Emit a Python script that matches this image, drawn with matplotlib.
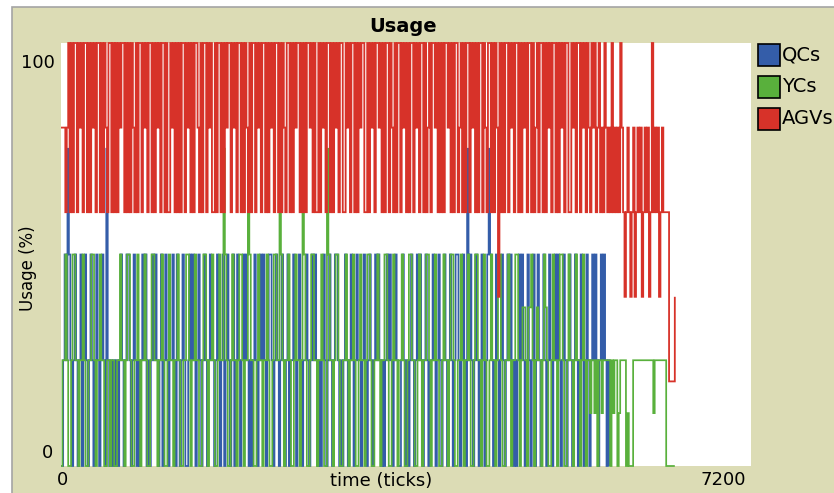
import numpy as np
import matplotlib
matplotlib.use("Agg")
import matplotlib.pyplot as plt
from matplotlib.patches import Rectangle

# Ticks between two recorded samples
TICK_STEP = 15
X_MAX = 7200

# Busy AGVs (out of 5) per sample
agvs_busy = [
    4, 4, 4, 3, 4, 5, 3, 5, 3, 5, 5, 3, 5, 4, 5, 3, 5, 5, 3, 5,
    3, 5, 4, 5, 3, 5, 5, 3, 5, 3, 5, 4, 3, 5, 5, 3, 5, 3, 5, 3,
    5, 4, 5, 5, 3, 5, 3, 5, 3, 5, 4, 3, 5, 3, 5, 5, 3, 5, 4, 5,
    3, 5, 5, 3, 5, 3, 5, 4, 5, 3, 5, 5, 3, 5, 3, 3, 5, 4, 5, 3,
    5, 3, 5, 3, 5, 5, 3, 5, 4, 5, 3, 5, 3, 5, 5, 4, 3, 5, 3, 5,
    5, 3, 5, 4, 5, 3, 3, 5, 3, 5, 5, 3, 5, 3, 5, 4, 5, 5, 3, 5,
    4, 5, 3, 5, 5, 3, 5, 3, 5, 4, 3, 5, 3, 5, 5, 3, 5, 4, 5, 3,
    5, 5, 3, 5, 3, 5, 4, 5, 3, 5, 5, 3, 5, 3, 5, 4, 3, 5, 5, 3,
    5, 3, 5, 4, 5, 5, 3, 5, 3, 5, 3, 5, 5, 4, 5, 3, 5, 3, 3, 5,
    3, 5, 4, 5, 3, 5, 5, 3, 5, 3, 5, 4, 5, 3, 5, 5, 3, 3, 5, 4,
    5, 3, 5, 5, 3, 5, 3, 5, 4, 5, 5, 3, 3, 5, 3, 5, 4, 5, 3, 5,
    5, 4, 5, 3, 5, 3, 5, 5, 3, 5, 4, 3, 5, 3, 5, 5, 3, 5, 4, 5,
    3, 5, 3, 5, 5, 3, 5, 4, 5, 3, 5, 5, 3, 5, 3, 4, 5, 3, 5, 5,
    4, 5, 3, 5, 3, 5, 3, 5, 5, 4, 5, 3, 5, 3, 5, 5, 3, 4, 5, 3,
    5, 3, 5, 5, 3, 5, 4, 5, 3, 5, 3, 5, 5, 3, 5, 4, 3, 5, 5, 3,
    5, 3, 5, 4, 2, 5, 3, 5, 3, 5, 5, 3, 5, 4, 5, 3, 5, 5, 3, 5,
    3, 5, 4, 5, 3, 5, 5, 3, 5, 3, 4, 5, 3, 5, 5, 3, 5, 3, 5, 4,
    5, 3, 5, 5, 3, 5, 3, 5, 4, 5, 3, 5, 5, 3, 3, 5, 4, 5, 3, 5,
    5, 3, 5, 4, 5, 3, 5, 4, 3, 5, 4, 5, 3, 4, 5, 3, 4, 3, 5, 4,
    3, 4, 3, 5, 3, 4, 3, 4, 3, 5, 4, 3, 2, 3, 4, 3, 2, 3, 4, 2,
    3, 4, 3, 4, 2, 3, 4, 3, 4, 2, 3, 5, 3, 4, 3, 4, 2, 3, 4, 3,
    3, 3, 3, 1, 1, 1, 1, 2,
]

# Busy quay cranes (out of 4) per sample
qcs_busy = [
    0, 1, 2, 1, 3, 2, 1, 0, 1, 2, 1, 0, 1, 2, 0, 1, 2, 1, 0, 1,
    2, 1, 0, 1, 2, 1, 0, 1, 2, 1, 0, 3, 1, 0, 1, 0, 1, 0, 1, 0,
    1, 2, 1, 0, 1, 2, 2, 1, 0, 1, 2, 1, 0, 1, 0, 1, 2, 1, 2, 0,
    1, 0, 1, 2, 1, 2, 1, 0, 1, 2, 0, 1, 2, 1, 0, 1, 1, 2, 1, 0,
    2, 1, 0, 1, 2, 1, 0, 0, 1, 2, 1, 2, 1, 0, 1, 2, 1, 0, 1, 2,
    1, 0, 1, 2, 1, 1, 0, 1, 2, 1, 0, 1, 2, 0, 1, 2, 1, 0, 1, 2,
    0, 1, 2, 1, 0, 1, 2, 1, 2, 1, 0, 1, 0, 1, 2, 1, 0, 1, 2, 1,
    2, 1, 0, 1, 2, 2, 1, 0, 1, 2, 1, 0, 1, 2, 1, 0, 1, 2, 0, 1,
    1, 2, 1, 0, 1, 2, 1, 0, 1, 1, 2, 1, 0, 1, 2, 1, 2, 1, 0, 1,
    0, 1, 2, 1, 0, 1, 2, 1, 0, 1, 2, 2, 1, 0, 1, 0, 1, 2, 1, 0,
    1, 2, 1, 0, 1, 2, 1, 1, 0, 1, 2, 1, 0, 1, 2, 1, 0, 1, 2, 1,
    2, 1, 0, 1, 0, 1, 2, 1, 2, 1, 0, 1, 2, 1, 0, 0, 1, 2, 1, 0,
    1, 0, 1, 2, 1, 0, 1, 2, 1, 2, 1, 0, 1, 2, 1, 0, 1, 1, 2, 1,
    0, 1, 2, 1, 0, 1, 2, 1, 0, 1, 2, 1, 0, 1, 2, 2, 1, 0, 1, 2,
    1, 0, 3, 1, 2, 1, 0, 1, 2, 1, 0, 1, 2, 1, 0, 1, 2, 3, 2, 1,
    0, 1, 2, 1, 0, 1, 2, 1, 0, 1, 2, 1, 2, 1, 0, 1, 0, 1, 2, 1,
    2, 1, 0, 1, 2, 1, 0, 1, 2, 0, 1, 2, 1, 0, 1, 2, 1, 0, 1, 2,
    1, 0, 1, 2, 1, 2, 1, 0, 1, 2, 1, 0, 1, 2, 1, 0, 1, 2, 1, 0,
    1, 2, 1, 0, 1, 2, 1, 0, 1, 2, 1, 2, 1, 0, 1, 2, 1, 2, 1, 0,
    1, 0,
]

# Busy yard cranes (out of 8) per sample
ycs_busy = [
    0, 2, 2, 4, 2, 0, 0, 2, 4, 4, 2, 2, 0, 2, 2, 4, 2, 0, 0, 2,
    2, 4, 4, 2, 0, 2, 2, 4, 2, 2, 0, 0, 2, 2, 0, 2, 2, 0, 0, 2,
    2, 4, 2, 2, 0, 2, 4, 4, 2, 0, 0, 2, 2, 4, 2, 0, 2, 2, 4, 2,
    0, 0, 2, 4, 4, 2, 2, 0, 2, 2, 4, 2, 0, 0, 2, 4, 2, 2, 0, 2,
    2, 4, 2, 0, 0, 2, 2, 4, 4, 2, 0, 2, 2, 4, 2, 2, 0, 0, 2, 4,
    4, 2, 0, 2, 2, 4, 2, 0, 0, 2, 4, 2, 2, 6, 4, 2, 0, 0, 2, 4,
    2, 2, 0, 2, 4, 4, 2, 0, 2, 2, 6, 4, 2, 2, 0, 0, 2, 4, 2, 2,
    0, 2, 2, 4, 2, 0, 0, 2, 4, 4, 2, 2, 6, 4, 2, 0, 2, 2, 4, 2,
    0, 0, 2, 4, 2, 2, 0, 2, 6, 4, 2, 0, 0, 2, 4, 4, 2, 2, 0, 2,
    2, 4, 2, 0, 0, 6, 4, 2, 2, 0, 2, 4, 4, 2, 0, 0, 2, 2, 4, 2,
    0, 2, 2, 4, 2, 0, 0, 2, 4, 2, 2, 0, 2, 4, 4, 2, 0, 0, 2, 2,
    4, 2, 0, 2, 2, 4, 4, 2, 0, 0, 2, 4, 2, 2, 0, 2, 2, 4, 2, 0,
    0, 2, 4, 4, 2, 2, 0, 0, 2, 4, 2, 0, 2, 2, 4, 4, 2, 0, 2, 2,
    4, 2, 2, 0, 0, 2, 4, 2, 2, 0, 2, 4, 4, 2, 0, 0, 2, 2, 4, 2,
    0, 2, 2, 4, 2, 0, 0, 2, 4, 4, 2, 2, 0, 2, 4, 2, 0, 0, 2, 4,
    2, 2, 0, 2, 4, 4, 2, 0, 0, 2, 2, 4, 2, 0, 2, 2, 4, 4, 2, 0,
    2, 3, 3, 2, 0, 3, 3, 4, 2, 0, 2, 3, 2, 2, 0, 2, 4, 3, 2, 0,
    0, 2, 4, 2, 2, 0, 2, 4, 4, 2, 0, 0, 2, 4, 2, 2, 0, 2, 4, 2,
    2, 0, 2, 4, 2, 0, 2, 2, 1, 2, 2, 1, 2, 0, 2, 2, 1, 2, 2, 2,
    2, 2, 0, 2, 1, 2, 2, 0, 1, 2, 2, 2, 2, 0, 1, 0, 0, 0, 2, 2,
    2, 2, 2, 2, 2, 2, 2, 2, 2, 2, 2, 2, 1, 2, 2, 2, 2, 2, 2, 2,
    2, 0, 0, 0, 0, 0, 0, 0,
]

series_names = ["QCs", "YCs", "AGVs"]
series_pool = [4, 8, 5]
series_colors = ["#345da9", "#59b03c", "#d73229"]
series_width = [1.25, 1.25, 1.3]
# QCs were logged half a sample later than the other two pens
series_shift = [TICK_STEP / 2, 0, 0]

W, H = 834, 493


def fx(px):
    return px / W


def fy(py):
    return 1 - py / H


def main():
    fig = plt.figure(figsize=(W / 100, H / 100), dpi=100)
    fig.patch.set_facecolor("white")

    # khaki panel with its grey frame, kept behind the axes
    fig.add_artist(Rectangle((fx(12), fy(H + 10)), fx(W), fy(7) - fy(H + 10),
                             facecolor="#dcdcb5", edgecolor="#a4a4a4", lw=1.2,
                             zorder=-5))

    ax = fig.add_axes([fx(61), fy(466), fx(751) - fx(61), fy(43) - fy(466)])
    ax.set_facecolor("white")
    ax.set_xlim(0, X_MAX)
    ax.set_ylim(0, 100)
    for s in ax.spines.values():
        s.set_visible(False)
    ax.set_xticks([])
    ax.set_yticks([])

    # QCs first, AGVs last so red sits on top
    data = [qcs_busy, ycs_busy, agvs_busy]
    for vals, pool, col, lw, shift in zip(data, series_pool, series_colors,
                                          series_width, series_shift):
        ticks = np.arange(len(vals)) * TICK_STEP + shift
        ticks[0] = 0
        usage = np.array(vals) * 100.0 / pool
        ax.plot(ticks, usage, drawstyle="steps-post", color=col, lw=lw,
                clip_on=False, snap=False, solid_joinstyle="miter",
                solid_capstyle="butt")

    # axis texts
    fs = 13
    fig.text(fx(403), fy(27), "Usage", ha="center", va="center",
             fontsize=14, fontweight="bold")
    fig.text(fx(55), fy(63), "100", ha="right", va="center", fontsize=fs)
    fig.text(fx(53), fy(453), "0", ha="right", va="center", fontsize=fs)
    fig.text(fx(62), fy(480), "0", ha="center", va="center", fontsize=fs)
    fig.text(fx(746), fy(480), str(X_MAX), ha="right", va="center", fontsize=fs)
    fig.text(fx(381), fy(481), "time (ticks)", ha="center", va="center", fontsize=fs)
    fig.text(fx(28), fy(268), "Usage (%)", rotation=90, ha="center",
             va="center", fontsize=12)

    # legend boxes
    for i, (name, col) in enumerate(zip(series_names, series_colors)):
        top = 44 + i * 32
        fig.add_artist(Rectangle((fx(758), fy(top + 22)), fx(22), fy(0) - fy(22),
                                 facecolor=col, edgecolor="black", lw=1.2))
        fig.text(fx(782), fy(top + 11), name, ha="left", va="center", fontsize=14)

    fig.savefig("out.png", dpi=100)


if __name__ == '__main__':
    main()
